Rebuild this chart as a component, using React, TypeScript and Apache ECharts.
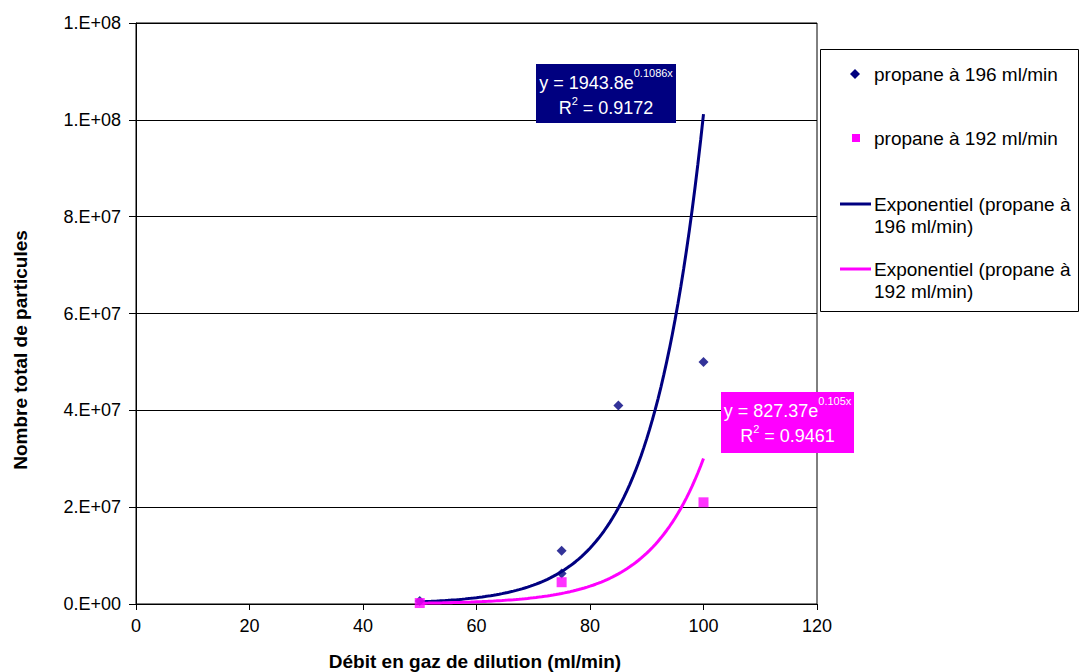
import React, { useEffect, useRef } from "react";
import * as echarts from "echarts";

// ---- data ----
const seriesNames = [
  "propane à 196 ml/min",
  "propane à 192 ml/min",
  "Exponentiel (propane à 196 ml/min)",
  "Exponentiel (propane à 192 ml/min)",
];
const x196 = [50, 75, 75, 85, 100];
const y196 = [600000, 11000000, 6300000, 41000000, 50000000];
const x192 = [50, 75, 100];
const y192 = [200000, 4500000, 21000000];
// trendline coefficients, as printed on the chart
const fit196 = { a: "1943.8", b: "0.1086", r2: "0.9172" };
const fit192 = { a: "827.37", b: "0.105", r2: "0.9461" };
const trendRange = [50, 100];
const xTicks = { min: 0, max: 120, interval: 20 };
const yTicks = { min: 0, max: 120000000, interval: 20000000 };
const xTitle = "Débit en gaz de dilution (ml/min)";
const yTitle = "Nombre total de particules";

const BLUE = "#000080";
const PINK = "#FF00FF";
const FONT = "'Liberation Sans', Arial, sans-serif";

function trend(fit: { a: string; b: string }) {
  const a = parseFloat(fit.a);
  const b = parseFloat(fit.b);
  const pts: number[][] = [];
  for (let x = trendRange[0]; x <= trendRange[1]; x += 0.5) {
    pts.push([x, a * Math.exp(b * x)]);
  }
  return pts;
}

function sci(v: number) {
  if (v === 0) return "0.E+00";
  const s = v.toExponential(0);
  const [m, e] = s.split("e");
  const sign = e[0] === "-" ? "-" : "+";
  const ex = Math.abs(parseInt(e, 10)).toString().padStart(2, "0");
  return `${m}.E${sign}${ex}`;
}

let measureCtx: CanvasRenderingContext2D | null = null;
function textWidth(text: string, font: string) {
  if (!measureCtx) measureCtx = document.createElement("canvas").getContext("2d");
  if (!measureCtx) return text.length * 9;
  measureCtx.font = font;
  return measureCtx.measureText(text).width;
}

export default function App() {
  const ref = useRef<HTMLDivElement>(null);
  useEffect(() => {
    if (!ref.current) return;
    const chart = echarts.init(ref.current, undefined, { renderer: "svg" });

    const LEG_FONT = `19px ${FONT}`;
    const legendItems = [
      { y: 74, kind: "diamond", color: BLUE, lines: [seriesNames[0]] },
      { y: 138, kind: "square", color: PINK, lines: [seriesNames[1]] },
      { y: 204, kind: "line", color: BLUE, lines: ["Exponentiel (propane à", "196 ml/min)"] },
      { y: 269, kind: "line", color: PINK, lines: ["Exponentiel (propane à", "192 ml/min)"] },
    ];
    const legendGraphics: any[] = [
      {
        type: "rect",
        shape: { x: 820.5, y: 49.5, width: 258, height: 262 },
        style: { fill: "#fff", stroke: "#000", lineWidth: 1 },
        z: 10,
      },
    ];
    legendItems.forEach((it) => {
      if (it.kind === "diamond") {
        legendGraphics.push({
          type: "polygon",
          shape: { points: [[855, it.y - 5], [860, it.y], [855, it.y + 5], [850, it.y]] },
          style: { fill: it.color },
          z: 11,
        });
      } else if (it.kind === "square") {
        legendGraphics.push({
          type: "rect",
          shape: { x: 852, y: it.y - 4, width: 8, height: 8 },
          style: { fill: it.color },
          z: 11,
        });
      } else {
        legendGraphics.push({
          type: "line",
          shape: { x1: 840, y1: it.y, x2: 871, y2: it.y },
          style: { stroke: it.color, lineWidth: 3 },
          z: 11,
        });
      }
      it.lines.forEach((ln, k) => {
        legendGraphics.push({
          type: "text",
          x: 874,
          y: it.y + k * 22,
          style: {
            text: ln,
            font: LEG_FONT,
            fill: "#000",
            verticalAlign: "middle",
            align: "left",
          },
          z: 11,
        });
      });
    });

    const MAIN = `18px ${FONT}`;
    const SUP = `11px ${FONT}`;
    const eqBox = (
      x: number,
      y: number,
      w: number,
      h: number,
      color: string,
      fit: { a: string; b: string; r2: string }
    ) => {
      const cx = x + w / 2;
      const out: any[] = [
        { type: "rect", shape: { x, y, width: w, height: h }, style: { fill: color }, z: 20 },
      ];
      // line 1
      const m1 = `y = ${fit.a}e`;
      const s1 = `${fit.b}x`;
      const w1 = textWidth(m1, MAIN) + textWidth(s1, SUP);
      const x1 = cx - w1 / 2;
      const l1 = y + 19;
      out.push({
        type: "text", x: x1, y: l1,
        style: { text: m1, font: MAIN, fill: "#fff", align: "left", verticalAlign: "middle" }, z: 21,
      });
      out.push({
        type: "text", x: x1 + textWidth(m1, MAIN), y: l1 - 10,
        style: { text: s1, font: SUP, fill: "#fff", align: "left", verticalAlign: "middle" }, z: 21,
      });
      // line 2
      const a2 = "R";
      const s2 = "2";
      const b2 = ` = ${fit.r2}`;
      const wa = textWidth(a2, MAIN);
      const ws = textWidth(s2, SUP);
      const w2 = wa + ws + textWidth(b2, MAIN);
      const x2 = cx - w2 / 2;
      const l2 = y + 44;
      out.push({
        type: "text", x: x2, y: l2,
        style: { text: a2, font: MAIN, fill: "#fff", align: "left", verticalAlign: "middle" }, z: 21,
      });
      out.push({
        type: "text", x: x2 + wa, y: l2 - 7,
        style: { text: s2, font: SUP, fill: "#fff", align: "left", verticalAlign: "middle" }, z: 21,
      });
      out.push({
        type: "text", x: x2 + wa + ws, y: l2,
        style: { text: b2, font: MAIN, fill: "#fff", align: "left", verticalAlign: "middle" }, z: 21,
      });
      return out;
    };

    const option: any = {
      animation: false,
      backgroundColor: "#fff",
      grid: {
        left: 136,
        top: 23,
        width: 681,
        height: 581,
        show: true,
        borderColor: "#000",
        borderWidth: 1,
        backgroundColor: "transparent",
      },
      xAxis: {
        type: "value",
        min: xTicks.min,
        max: xTicks.max,
        interval: xTicks.interval,
        axisLine: { lineStyle: { color: "#000", width: 1 } },
        axisTick: { show: true, inside: false, length: 6, lineStyle: { color: "#000" } },
        axisLabel: { color: "#000", fontSize: 18, fontFamily: FONT, margin: 13 },
        splitLine: { show: false },
      },
      yAxis: {
        type: "value",
        min: yTicks.min,
        max: yTicks.max,
        interval: yTicks.interval,
        axisLine: { show: true, lineStyle: { color: "#000", width: 1 } },
        axisTick: { show: true, inside: false, length: 7, lineStyle: { color: "#000" } },
        axisLabel: { color: "#000", fontSize: 18, fontFamily: FONT, margin: 15, formatter: sci },
        splitLine: { show: true, lineStyle: { color: "#000", width: 1 } },
      },
      series: [
        {
          name: seriesNames[2],
          type: "line",
          data: trend(fit196),
          showSymbol: false,
          symbol: "none",
          lineStyle: { color: BLUE, width: 3 },
          z: 3,
        },
        {
          name: seriesNames[3],
          type: "line",
          data: trend(fit192),
          showSymbol: false,
          symbol: "none",
          lineStyle: { color: PINK, width: 3 },
          z: 3,
        },
        {
          name: seriesNames[0],
          type: "scatter",
          data: x196.map((x, i) => [x, y196[i]]),
          symbol: "diamond",
          symbolSize: [10, 10],
          itemStyle: { color: BLUE },
          z: 4,
        },
        {
          name: seriesNames[1],
          type: "scatter",
          data: x192.map((x, i) => [x, y192[i]]),
          symbol: "rect",
          symbolSize: 10,
          itemStyle: { color: PINK },
          z: 4,
        },
      ],
      graphic: [
        ...legendGraphics,
        ...eqBox(536, 64, 140, 59, BLUE, fit196),
        ...eqBox(721, 392, 133, 61, PINK, fit192),
        {
          type: "text",
          x: 475,
          y: 661,
          style: {
            text: xTitle,
            font: `bold 19px ${FONT}`,
            fill: "#000",
            align: "center",
            verticalAlign: "middle",
          },
        },
        {
          type: "text",
          x: 20,
          y: 350,
          rotation: Math.PI / 2,
          style: {
            text: yTitle,
            font: `bold 19px ${FONT}`,
            fill: "#000",
            align: "center",
            verticalAlign: "middle",
          },
        },
      ],
    };
    chart.setOption(option);
    return () => chart.dispose();
  }, []);

  return (
    <div
      ref={ref}
      style={{ width: 1080, height: 672, position: "absolute", left: 0, top: 0, background: "#fff" }}
    />
  );
}
